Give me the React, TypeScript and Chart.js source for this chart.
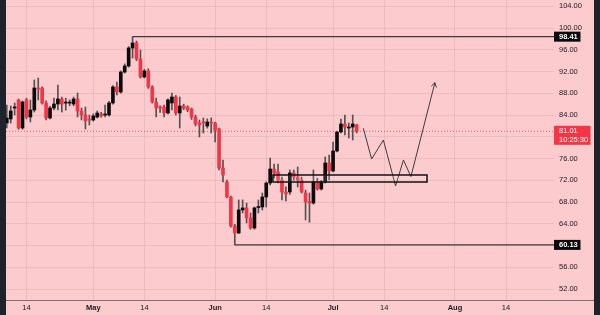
import React, { useEffect, useRef } from "react";
import { Chart, registerables } from "chart.js";
Chart.register(...registerables);

// Day offsets are counted from Apr 14 (0). First candle: Apr 9.
const FIRST_DAY = -5;

const opens = [
  82.54, 83.28, 85.3, 86.77, 81.62, 86.77, 83.64, 84.93, 88.97, 88.97,
  86.22, 83.46, 85.3, 86.03, 86.95, 86.2, 86.2, 86.03, 86.95, 84.75,
  84.01, 83.12, 83.09, 83.64, 84.2, 84.0, 84.01, 86.22, 89.16, 88.24,
  91.91, 93.02, 96.33, 97.25, 94.3, 91.0, 92.1, 89.16, 86.4, 85.48,
  85.48, 84.38, 86.22, 87.32, 84.38, 85.66, 85.48, 85.1, 83.64, 82.54,
  82.6, 81.99, 82.72, 82.54, 81.44, 74.27, 71.69, 68.94, 63.61, 62.32,
  66.55, 66.92, 65.08, 63.24, 67.0, 67.1, 68.94, 71.51, 74.08, 73.53,
  72.06, 69.86, 69.86, 73.35, 72.61, 72.06, 69.67, 68.1, 67.83, 71.69,
  70.41, 71.69, 75.19, 73.72, 77.39, 80.89, 82.36, 81.62, 81.8, 82.17,
];
const highs = [
  85.85, 85.66, 86.22, 86.95, 86.6, 87.1, 86.77, 90.44, 90.81, 89.2,
  86.6, 85.6, 87.1, 89.5, 87.3, 87.1, 86.8, 87.3, 88.06, 85.3,
  85.48, 84.0, 84.2, 84.75, 84.5, 85.85, 86.5, 89.4, 90.07, 92.1,
  93.4, 96.6, 98.41, 97.6, 95.96, 92.4, 92.5, 89.4, 87.1, 85.7,
  85.85, 87.0, 88.06, 87.6, 87.32, 86.0, 85.7, 85.3, 84.0, 83.09,
  83.46, 83.3, 83.46, 82.7, 81.6, 75.74, 72.06, 69.1, 63.9, 68.39,
  68.39, 67.83, 66.0, 67.1, 68.39, 69.67, 71.7, 76.1, 75.0, 75.0,
  72.6, 70.8, 73.9, 73.9, 74.45, 72.6, 70.2, 69.67, 73.9, 72.4,
  72.0, 76.3, 76.65, 79.05, 81.0, 83.28, 84.01, 82.54, 84.01, 82.3,
];
const lows = [
  81.62, 82.54, 84.01, 81.4, 81.4, 83.3, 82.72, 84.56, 86.77, 86.0,
  83.1, 83.3, 84.93, 84.93, 84.56, 84.9, 85.7, 85.7, 83.64, 83.1,
  81.44, 82.17, 82.9, 83.46, 83.6, 83.64, 83.8, 86.0, 87.69, 88.0,
  91.7, 92.8, 94.49, 94.0, 90.8, 90.8, 88.9, 86.2, 83.64, 84.5,
  83.64, 84.2, 84.93, 84.0, 81.62, 85.0, 84.6, 83.2, 82.0, 79.97,
  80.7, 81.6, 80.7, 79.05, 73.9, 71.69, 68.75, 63.4, 60.13, 62.2,
  66.0, 64.16, 63.0, 63.0, 66.0, 66.55, 67.1, 71.14, 72.4, 71.51,
  68.39, 68.2, 69.4, 72.0, 70.77, 69.67, 64.71, 64.3, 67.6, 70.2,
  70.2, 71.5, 72.06, 73.53, 77.2, 80.7, 80.33, 79.78, 79.41, 80.7,
];
const closes = [
  83.46, 84.75, 85.38, 81.62, 86.4, 83.64, 84.93, 88.97, 88.78, 86.22,
  83.46, 85.3, 86.03, 86.95, 86.03, 86.28, 86.24, 86.95, 84.75, 84.01,
  82.91, 83.06, 83.83, 84.38, 83.83, 84.06, 86.22, 89.16, 88.24, 91.91,
  93.02, 96.33, 97.25, 94.3, 91.0, 92.1, 89.16, 86.4, 85.3, 85.3,
  84.38, 86.77, 87.32, 84.38, 85.66, 85.3, 84.93, 83.64, 82.36, 82.17,
  82.55, 82.72, 82.54, 81.25, 74.27, 72.98, 68.94, 63.61, 62.32, 66.55,
  66.92, 65.08, 63.24, 66.92, 67.1, 68.94, 71.51, 74.08, 73.35, 72.06,
  69.86, 69.5, 73.35, 72.61, 72.06, 69.86, 68.02, 67.83, 71.69, 70.41,
  71.69, 75.19, 73.72, 77.39, 80.89, 82.36, 81.8, 81.8, 82.36, 81.01,
];

const tickDays = [0, 17, 30, 48, 61, 78, 91, 109, 122];
const tickLabels = ["14", "May", "14", "Jun", "14", "Jul", "14", "Aug", "14"];
const monthTick = [false, true, false, true, false, true, false, true, false];
const priceTicks = [52, 56, 60, 64, 68, 72, 76, 80, 84, 88, 92, 96, 100, 104];

const resistanceLevel = 98.41;
const resistanceStartDay = 27;
const supportLevel = 60.13;
const supportStartDay = 53;
const lastPrice = 81.01;
const countdown = "10:25:30";

const zoneTop = 72.98;
const zoneBottom = 71.69;
const zoneStartDay = 62.7;
const zoneEndDay = 101.9;

const pathDays = [85.7, 87.8, 90.8, 93.9, 95.9, 97.8, 103.9];
const pathPrices = [81.57, 75.92, 79.41, 70.96, 75.74, 72.67, 89.95];

const X_MIN = -5.2;
const X_MAX = 134.2;
const Y_MIN = 50.0;
const Y_MAX = 105.15;

const BG = "#fccbce";
const GRID = "rgba(170,110,115,0.16)";
const BULL = "#0b0b0d";
const BEAR = "#f23645";
const WICK = "#555052";
const TEXT = "#1a1a1f";
const DARK = "#1e222d";
const FONT = "'Liberation Sans', Arial, sans-serif";

export default function App() {
  const ref = useRef<HTMLCanvasElement>(null);

  useEffect(() => {
    document.body.style.margin = "0";
    const canvas = ref.current;
    if (!canvas) return;

    const days = opens.map((_, i) => FIRST_DAY + i);
    const wickData = days.map((d, i) => ({ x: d, y: [lows[i], highs[i]] }));
    const bodyData = days.map((d, i) => ({
      x: d,
      y: [Math.min(opens[i], closes[i]), Math.max(opens[i], closes[i])],
    }));
    const bodyColors = days.map((_, i) => (closes[i] >= opens[i] ? BULL : BEAR));

    const bgPlugin = {
      id: "bgPlugin",
      beforeDraw(chart: any) {
        const c = chart.ctx;
        c.save();
        c.fillStyle = BG;
        c.fillRect(0, 0, chart.width, chart.height);
        c.restore();
      },
    };

    const overlayPlugin = {
      id: "overlayPlugin",
      afterDatasetsDraw(chart: any) {
        const c = chart.ctx;
        const xs = chart.scales.x;
        const ys = chart.scales.y;
        // zone rectangle
        const x1 = xs.getPixelForValue(zoneStartDay);
        const x2 = xs.getPixelForValue(zoneEndDay);
        const y1 = ys.getPixelForValue(zoneTop);
        const y2 = ys.getPixelForValue(zoneBottom);
        c.save();
        c.fillStyle = "rgba(255,255,255,0.12)";
        c.fillRect(x1, y1, x2 - x1, y2 - y1);
        c.strokeStyle = "#121212";
        c.lineWidth = 1.5;
        c.strokeRect(x1, y1, x2 - x1, y2 - y1);
        c.restore();
        // arrow head on projected path
        const meta = chart.getDatasetMeta(5);
        const pts = meta.data;
        if (pts && pts.length > 1) {
          const a = pts[pts.length - 2];
          const b = pts[pts.length - 1];
          const ang = Math.atan2(b.y - a.y, b.x - a.x);
          const len = 5;
          c.save();
          c.strokeStyle = "#3d3d3d";
          c.lineWidth = 1;
          c.beginPath();
          c.moveTo(b.x - len * Math.cos(ang - 0.55), b.y - len * Math.sin(ang - 0.55));
          c.lineTo(b.x, b.y);
          c.lineTo(b.x - len * Math.cos(ang + 0.55), b.y - len * Math.sin(ang + 0.55));
          c.stroke();
          c.restore();
        }
      },
      afterDraw(chart: any) {
        const c = chart.ctx;
        const ys = chart.scales.y;
        const area = chart.chartArea;
        c.save();
        // bottom axis line
        c.strokeStyle = "rgba(90,80,82,0.75)";
        c.lineWidth = 1;
        c.beginPath();
        c.moveTo(6, Math.round(area.bottom) + 0.5);
        c.lineTo(594, Math.round(area.bottom) + 0.5);
        c.stroke();

        c.textBaseline = "middle";
        c.textAlign = "left";
        const box = (v: number, w: number, fill: string) => {
          const y = ys.getPixelForValue(v);
          c.fillStyle = fill;
          c.fillRect(area.right, y - 5, w, 10);
          c.fillStyle = "#ffffff";
          c.font = `bold 7.5px ${FONT}`;
          c.fillText(v.toFixed(2), area.right + 5, y + 0.5);
        };
        box(resistanceLevel, 26.5, "#0a0a0a");
        box(supportLevel, 26.5, "#0a0a0a");

        // last price box
        const yl = ys.getPixelForValue(lastPrice);
        c.fillStyle = BEAR;
        c.fillRect(area.right, yl - 5.5, 36.5, 19);
        c.fillStyle = "#ffffff";
        c.font = `7.5px ${FONT}`;
        c.fillText(lastPrice.toFixed(2), area.right + 5, yl - 0.5);
        c.fillText(countdown, area.right + 5, yl + 8.5);

        // dark side strips
        c.fillStyle = DARK;
        c.fillRect(0, 0, 6, chart.height);
        c.fillRect(594, 0, 6, chart.height);
        c.restore();
      },
    };

    const chart = new Chart(canvas, {
      type: "bar",
      data: {
        datasets: [
          {
            type: "bar",
            data: bodyData as any,
            backgroundColor: bodyColors,
            borderWidth: 0,
            barThickness: 3,
            minBarLength: 1,
            grouped: false,
            order: 1,
          },
          {
            type: "bar",
            data: wickData as any,
            backgroundColor: WICK,
            borderWidth: 0,
            barThickness: 1,
            grouped: false,
            order: 2,
          },
          {
            type: "line",
            data: [
              { x: resistanceStartDay, y: resistanceLevel },
              { x: X_MAX, y: resistanceLevel },
            ],
            borderColor: "#3f3a3b",
            borderWidth: 1.2,
            pointRadius: 0,
            order: 0,
          },
          {
            type: "line",
            data: [
              { x: supportStartDay, y: supportLevel },
              { x: X_MAX, y: supportLevel },
            ],
            borderColor: "#3f3a3b",
            borderWidth: 1.2,
            pointRadius: 0,
            order: 0,
          },
          {
            type: "line",
            data: [
              { x: X_MIN, y: lastPrice },
              { x: X_MAX, y: lastPrice },
            ],
            borderColor: "rgba(242,54,69,0.8)",
            borderWidth: 1,
            borderDash: [1, 2],
            pointRadius: 0,
            order: 3,
          },
          {
            type: "line",
            data: pathDays.map((d, i) => ({ x: d, y: pathPrices[i] })),
            borderColor: "#3d3d3d",
            borderWidth: 1,
            pointRadius: 0,
            tension: 0,
            order: 0,
          },
        ] as any,
      },
      options: {
        responsive: false,
        animation: false,
        events: [],
        layout: { padding: { left: 6, right: 6, top: 0, bottom: 0 } },
        plugins: { legend: { display: false }, tooltip: { enabled: false } },
        scales: {
          x: {
            type: "linear",
            min: X_MIN,
            max: X_MAX,
            offset: false,
            afterBuildTicks: (s: any) => {
              s.ticks = tickDays.map((v) => ({ value: v }));
            },
            afterFit: (s: any) => {
              s.height = 15;
              s.paddingLeft = 0;
              s.paddingRight = 0;
            },
            grid: { color: GRID, drawTicks: false, offset: false, lineWidth: 1 },
            border: { display: false },
            ticks: {
              autoSkip: false,
              maxRotation: 0,
              padding: 3,
              color: TEXT,
              font: (ctx: any) => ({
                family: FONT,
                size: 7.5,
                weight: monthTick[ctx.index] ? "bold" : "normal",
              }),
              callback: (_v: any, i: number) => tickLabels[i],
            },
          },
          y: {
            type: "linear",
            position: "right",
            min: Y_MIN,
            max: Y_MAX,
            afterBuildTicks: (s: any) => {
              s.ticks = priceTicks.map((v) => ({ value: v }));
            },
            afterFit: (s: any) => {
              s.width = 40;
              s.paddingTop = 0;
              s.paddingBottom = 0;
            },
            grid: { color: GRID, drawTicks: false, lineWidth: 1 },
            border: { display: false },
            ticks: {
              padding: 5,
              color: TEXT,
              font: { family: FONT, size: 7.5 },
              callback: (v: any) => Number(v).toFixed(2),
            },
          },
        },
      } as any,
      plugins: [bgPlugin, overlayPlugin],
    });

    return () => chart.destroy();
  }, []);

  return (
    <div style={{ width: 600, height: 315, position: "relative" }}>
      <canvas ref={ref} width={600} height={315} style={{ display: "block" }} />
    </div>
  );
}
